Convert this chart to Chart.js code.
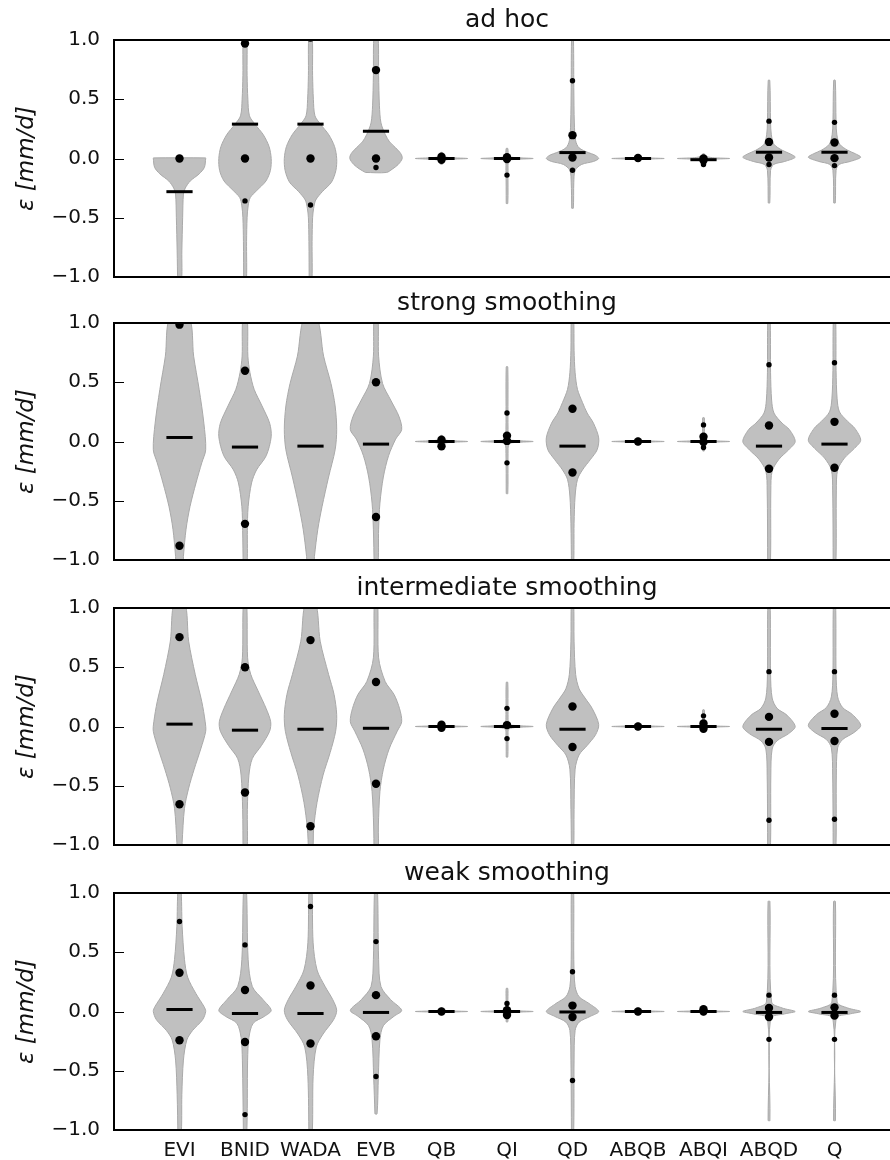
<!DOCTYPE html>
<html>
<head>
<meta charset="utf-8">
<script src="https://cdn.jsdelivr.net/npm/chart.js@4/dist/chart.umd.min.js"></script>
<style>
  body { margin: 0; background: #fff; }
  #fig { position: relative; width: 890px; height: 1160px; overflow: hidden; }
  #fig canvas { position: absolute; left: 0; }
</style>
</head>
<body>
<div id="fig">
  <canvas id="p0" width="904" height="304" style="top:0px"></canvas>
  <canvas id="p1" width="904" height="304" style="top:283px"></canvas>
  <canvas id="p2" width="904" height="304" style="top:568px"></canvas>
  <canvas id="p3" width="904" height="307" style="top:853px"></canvas>
</div>
<script>
// categories and axis ticks
const categories = ['EVI', 'BNID', 'WADA', 'EVB', 'QB', 'QI', 'QD', 'ABQB', 'ABQI', 'ABQD', 'Q'];
const panelTitles = ['ad hoc', 'strong smoothing', 'intermediate smoothing', 'weak smoothing'];
const yTickValues = [-1, -0.5, 0, 0.5, 1];

// violin profiles: [value, relative half-width] from bottom to top
const spindle = [[-0.03, 0.03], [-0.012, 0.08], [-0.005, 0.4], [0, 1], [0.005, 0.4], [0.012, 0.08], [0.03, 0.03]];

// ---- ad hoc
const adHocProfiles = [
  [[-1.05, 0.07], [-0.78, 0.09], [-0.5, 0.12], [-0.3, 0.15], [-0.25, 0.22], [-0.19, 0.41], [-0.13, 0.75], [-0.075, 0.95], [0.0, 1.0], [0.005, 1.0]],
  [[-1.05, 0.05], [-0.7, 0.06], [-0.5, 0.08], [-0.4, 0.12], [-0.33, 0.2], [-0.27, 0.45], [-0.19, 0.8], [-0.1, 0.97], [0.0, 1.0], [0.1, 0.92], [0.2, 0.7], [0.29, 0.38], [0.36, 0.17], [0.5, 0.11], [0.7, 0.08], [1.05, 0.06]],
  [[-1.05, 0.05], [-0.7, 0.06], [-0.5, 0.08], [-0.42, 0.12], [-0.35, 0.2], [-0.28, 0.45], [-0.2, 0.8], [-0.1, 0.97], [0.0, 1.0], [0.1, 0.92], [0.2, 0.7], [0.29, 0.38], [0.36, 0.17], [0.5, 0.11], [0.7, 0.08], [1.05, 0.06]],
  [[-0.118, 0.4], [-0.09, 0.62], [-0.05, 0.85], [0.0, 1.0], [0.04, 0.95], [0.09, 0.75], [0.14, 0.52], [0.2, 0.36], [0.3, 0.19], [0.45, 0.13], [0.7, 0.1], [1.05, 0.07]],
  [[-0.05, 0.03], [-0.02, 0.06], [-0.008, 0.3], [0, 1], [0.008, 0.3], [0.02, 0.06], [0.05, 0.03]],
  [[-0.38, 0.03], [-0.1, 0.04], [-0.02, 0.07], [-0.008, 0.3], [0, 1], [0.008, 0.3], [0.02, 0.07], [0.085, 0.03]],
  [[-0.42, 0.03], [-0.2, 0.05], [-0.1, 0.1], [-0.05, 0.35], [-0.025, 0.8], [0.0, 1.0], [0.03, 0.85], [0.05, 0.6], [0.09, 0.25], [0.15, 0.12], [0.3, 0.07], [0.6, 0.05], [1.05, 0.03]],
  spindle,
  [[-0.06, 0.03], [-0.02, 0.07], [-0.007, 0.35], [0, 1], [0.007, 0.35], [0.02, 0.07], [0.04, 0.03]],
  [[-0.375, 0.03], [-0.1, 0.06], [-0.05, 0.18], [-0.025, 0.6], [0.01, 1.0], [0.04, 0.8], [0.07, 0.5], [0.12, 0.19], [0.2, 0.09], [0.3, 0.06], [0.66, 0.03]],
  [[-0.375, 0.03], [-0.1, 0.06], [-0.05, 0.18], [-0.025, 0.6], [0.01, 1.0], [0.04, 0.8], [0.07, 0.5], [0.12, 0.2], [0.2, 0.09], [0.3, 0.06], [0.66, 0.03]]
];
const adHocMedians = [-0.28, 0.29, 0.29, 0.23, 0.0, 0.0, 0.05, 0.0, -0.01, 0.053, 0.053];
const adHocBigDots = [[0.0], [0.0, 0.97], [0.0, 1.02], [0.0, 0.746], [0.015, -0.01], [0.01, -0.005], [0.008, 0.197], [0.005], [0.0, -0.015], [0.008, 0.14], [0.003, 0.135]];
const adHocSmallDots = [[], [-0.358], [-0.392], [-0.076], [], [-0.14], [0.656, -0.099], [], [-0.05], [0.315, -0.05], [0.305, -0.06]];

// ---- strong smoothing
const strongProfiles = [
  [[-1.05, 0.14], [-0.97, 0.15], [-0.74, 0.25], [-0.55, 0.4], [-0.35, 0.63], [-0.18, 0.85], [-0.07, 1.0], [0.155, 0.93], [0.44, 0.75], [0.72, 0.54], [1.05, 0.36]],
  [[-1.05, 0.07], [-0.75, 0.09], [-0.55, 0.12], [-0.35, 0.25], [-0.24, 0.44], [-0.12, 0.81], [0.04, 1.0], [0.155, 0.94], [0.3, 0.65], [0.44, 0.35], [0.58, 0.19], [0.72, 0.11], [1.05, 0.08]],
  [[-1.05, 0.13], [-0.97, 0.15], [-0.74, 0.28], [-0.55, 0.44], [-0.3, 0.69], [-0.07, 0.94], [0.1, 1.0], [0.3, 0.94], [0.49, 0.78], [0.72, 0.5], [1.05, 0.24]],
  [[-1.05, 0.07], [-0.74, 0.1], [-0.52, 0.15], [-0.3, 0.28], [-0.12, 0.48], [0.02, 0.75], [0.1, 0.98], [0.21, 0.88], [0.35, 0.56], [0.49, 0.25], [0.72, 0.1], [1.05, 0.07]],
  [[-0.05, 0.03], [-0.02, 0.06], [-0.008, 0.3], [0, 1], [0.008, 0.3], [0.02, 0.06], [0.05, 0.03]],
  [[-0.44, 0.03], [-0.1, 0.04], [-0.02, 0.08], [-0.008, 0.35], [0, 1], [0.008, 0.35], [0.02, 0.08], [0.1, 0.04], [0.63, 0.03]],
  [[-1.05, 0.04], [-0.69, 0.06], [-0.46, 0.1], [-0.32, 0.19], [-0.24, 0.38], [-0.15, 0.69], [-0.07, 0.94], [0.03, 1.0], [0.155, 0.8], [0.24, 0.56], [0.33, 0.38], [0.44, 0.19], [0.58, 0.1], [0.77, 0.06], [1.05, 0.04]],
  spindle,
  [[-0.08, 0.03], [-0.02, 0.07], [-0.007, 0.35], [0, 1], [0.007, 0.35], [0.02, 0.07], [0.2, 0.03]],
  [[-1.05, 0.05], [-0.41, 0.07], [-0.25, 0.12], [-0.15, 0.38], [-0.07, 0.75], [0.0, 1.0], [0.1, 0.78], [0.155, 0.5], [0.24, 0.19], [0.35, 0.1], [0.58, 0.06], [1.05, 0.04]],
  [[-1.05, 0.05], [-0.41, 0.07], [-0.24, 0.12], [-0.14, 0.38], [-0.06, 0.75], [0.01, 1.0], [0.11, 0.78], [0.17, 0.5], [0.25, 0.19], [0.36, 0.1], [0.6, 0.06], [1.05, 0.04]]
];
const strongMedians = [0.034, -0.047, -0.039, -0.022, 0.0, 0.0, -0.039, 0.0, 0.0, -0.039, -0.022];
const strongBigDots = [[0.986, -0.88], [0.597, -0.695], [], [0.5, -0.637], [0.015, -0.04], [0.048, 0.005], [0.276, -0.262], [0.0], [0.04, -0.005], [0.135, -0.23], [0.166, -0.222]];
const strongSmallDots = [[], [], [], [], [], [0.24, -0.18], [], [], [0.14, -0.05], [0.648], [0.665]];

// ---- intermediate smoothing
const interProfiles = [
  [[-1.05, 0.09], [-0.98, 0.1], [-0.69, 0.19], [-0.52, 0.35], [-0.36, 0.56], [-0.19, 0.81], [-0.04, 1.0], [0.04, 0.98], [0.21, 0.85], [0.44, 0.6], [0.72, 0.35], [1.05, 0.2]],
  [[-1.05, 0.075], [-0.7, 0.09], [-0.41, 0.15], [-0.27, 0.28], [-0.16, 0.63], [-0.04, 0.94], [0.04, 0.98], [0.15, 0.81], [0.3, 0.5], [0.44, 0.22], [0.58, 0.1], [1.05, 0.06]],
  [[-1.05, 0.075], [-0.86, 0.12], [-0.64, 0.25], [-0.41, 0.48], [-0.22, 0.75], [-0.04, 0.96], [0.1, 1.0], [0.27, 0.9], [0.44, 0.69], [0.72, 0.37], [1.05, 0.19]],
  [[-1.05, 0.075], [-0.84, 0.09], [-0.55, 0.15], [-0.36, 0.28], [-0.19, 0.5], [-0.04, 0.81], [0.04, 0.98], [0.15, 0.9], [0.27, 0.69], [0.38, 0.35], [0.58, 0.1], [1.05, 0.06]],
  spindle,
  [[-0.258, 0.03], [-0.05, 0.04], [-0.02, 0.08], [-0.008, 0.35], [0, 1], [0.008, 0.35], [0.02, 0.08], [0.1, 0.04], [0.373, 0.03]],
  [[-1.05, 0.04], [-0.7, 0.06], [-0.36, 0.1], [-0.24, 0.25], [-0.16, 0.56], [-0.07, 0.88], [0.017, 1.0], [0.153, 0.75], [0.24, 0.48], [0.32, 0.25], [0.44, 0.12], [0.72, 0.06], [1.05, 0.04]],
  spindle,
  [[-0.04, 0.03], [-0.015, 0.07], [-0.006, 0.35], [0, 1], [0.006, 0.35], [0.02, 0.07], [0.14, 0.03]],
  [[-1.05, 0.05], [-0.41, 0.07], [-0.19, 0.12], [-0.12, 0.31], [-0.06, 0.75], [0.0, 1.0], [0.095, 0.69], [0.153, 0.31], [0.24, 0.12], [0.44, 0.06], [1.05, 0.04]],
  [[-1.05, 0.05], [-0.41, 0.07], [-0.18, 0.12], [-0.11, 0.31], [-0.05, 0.75], [0.01, 1.0], [0.1, 0.69], [0.16, 0.31], [0.25, 0.12], [0.44, 0.06], [1.05, 0.04]]
];
const interMedians = [0.02, -0.031, -0.023, -0.015, 0.0, 0.0, -0.023, 0.0, 0.0, -0.023, -0.017];
const interBigDots = [[0.754, -0.656], [0.5, -0.557], [0.729, -0.842], [0.376, -0.483], [0.015, -0.01], [0.012], [0.169, -0.173], [0.0], [0.025, -0.02], [0.081, -0.13], [0.107, -0.122]];
const interSmallDots = [[], [], [], [], [], [0.153, -0.102], [], [], [0.09], [0.463, -0.791], [0.463, -0.783]];

// ---- weak smoothing
const weakProfiles = [
  [[-1.05, 0.06], [-0.7, 0.09], [-0.41, 0.15], [-0.24, 0.28], [-0.16, 0.5], [-0.07, 0.88], [0.0, 1.0], [0.04, 0.94], [0.15, 0.63], [0.29, 0.31], [0.44, 0.19], [0.72, 0.1], [1.05, 0.05]],
  [[-1.05, 0.06], [-0.41, 0.1], [-0.22, 0.15], [-0.1, 0.31], [-0.04, 0.75], [0.01, 1.0], [0.1, 0.69], [0.21, 0.28], [0.44, 0.12], [1.05, 0.05]],
  [[-1.05, 0.06], [-0.55, 0.1], [-0.3, 0.22], [-0.19, 0.48], [-0.07, 0.88], [0.01, 1.0], [0.1, 0.85], [0.21, 0.56], [0.35, 0.25], [0.58, 0.1], [1.05, 0.05]],
  [[-0.864, 0.04], [-0.55, 0.09], [-0.24, 0.15], [-0.12, 0.28], [-0.04, 0.69], [0.01, 0.98], [0.1, 0.56], [0.21, 0.19], [0.44, 0.1], [1.05, 0.05]],
  spindle,
  [[-0.088, 0.03], [-0.02, 0.07], [-0.007, 0.35], [0, 1], [0.007, 0.35], [0.02, 0.07], [0.195, 0.03]],
  [[-1.05, 0.04], [-0.41, 0.06], [-0.16, 0.1], [-0.09, 0.25], [-0.04, 0.69], [0.0, 1.0], [0.068, 0.63], [0.125, 0.25], [0.21, 0.1], [0.44, 0.05], [1.05, 0.04]],
  spindle,
  spindle,
  [[-0.921, 0.035], [-0.06, 0.06], [-0.02, 0.6], [0.0, 1.0], [0.03, 0.5], [0.08, 0.1], [0.929, 0.035]],
  [[-0.921, 0.035], [-0.06, 0.06], [-0.02, 0.6], [0.0, 1.0], [0.03, 0.5], [0.08, 0.1], [0.929, 0.035]]
];
const weakMedians = [0.017, -0.017, -0.017, -0.008, 0.0, 0.0, -0.004, 0.0, 0.0, -0.008, -0.008];
const weakBigDots = [[0.327, -0.243], [0.181, -0.258], [0.22, -0.27], [0.138, -0.209], [0.0], [0.01, -0.03], [0.05, -0.046], [0.0], [0.02, 0.0], [0.03, -0.046], [0.035, -0.035]];
const weakSmallDots = [[0.76], [0.562, -0.87], [0.886], [0.59, -0.548], [], [0.068], [0.336, -0.582], [], [], [0.138, -0.235], [0.138, -0.235]];

const panels = [
  {profiles: adHocProfiles, medians: adHocMedians, big: adHocBigDots, small: adHocSmallDots},
  {profiles: strongProfiles, medians: strongMedians, big: strongBigDots, small: strongSmallDots},
  {profiles: interProfiles, medians: interMedians, big: interBigDots, small: interSmallDots},
  {profiles: weakProfiles, medians: weakMedians, big: weakBigDots, small: weakSmallDots}
];

const HALF = 0.4;  // widest half-width of a violin, in category units
const FONT = 'DejaVu Sans';
const INK = '#111';

// closed outline: up the left side, down the right side
function violinOutline(profile, pos) {
  const left = profile.map(([y, w]) => ({x: pos - w * HALF, y: y}));
  const right = profile.slice().reverse().map(([y, w]) => ({x: pos + w * HALF, y: y}));
  return left.concat(right, [left[0]]);
}

// box around the plot and inward ticks on both sides
const frame = {
  id: 'frame',
  afterDatasetsDraw(chart) {
    const {ctx, chartArea: {left, top, right, bottom}, scales: {y}} = chart;
    ctx.save();
    ctx.strokeStyle = '#000';
    ctx.lineWidth = 1;
    yTickValues.forEach(v => {
      const py = Math.round(y.getPixelForValue(v)) + 0.5;
      ctx.beginPath();
      ctx.moveTo(left, py); ctx.lineTo(left + 10, py);
      ctx.moveTo(right - 10, py); ctx.lineTo(right, py);
      ctx.stroke();
    });
    ctx.lineWidth = 2;
    ctx.strokeRect(left, top, right - left, bottom - top);
    ctx.restore();
  }
};

panels.forEach((p, k) => {
  const last = k === panels.length - 1;
  const datasets = [];

  p.profiles.forEach((prof, i) => {
    datasets.push({
      data: violinOutline(prof, i + 1),
      showLine: true,
      fill: 'shape',
      backgroundColor: '#c0c0c0',
      borderColor: '#a9a9a9',
      borderWidth: 1,
      tension: 0.3,
      pointRadius: 0,
      clip: 0,
      order: 3
    });
  });

  datasets.push({
    data: p.medians.map((m, i) => ({x: i + 1, y: m})),
    pointStyle: 'line',
    pointRadius: 13.1,
    borderColor: '#000',
    borderWidth: 3,
    clip: 0,
    order: 2
  });

  datasets.push({
    data: p.small.flatMap((vals, i) => vals.map(v => ({x: i + 1, y: v}))),
    pointRadius: 2.7,
    backgroundColor: '#000',
    borderWidth: 0,
    clip: 0,
    order: 1
  });

  datasets.push({
    data: p.big.flatMap((vals, i) => vals.map(v => ({x: i + 1, y: v}))),
    pointRadius: 4.2,
    backgroundColor: '#000',
    borderWidth: 0,
    clip: 0,
    order: 0
  });

  new Chart(document.getElementById('p' + k), {
    type: 'scatter',
    data: {datasets: datasets},
    options: {
      responsive: false,
      animation: false,
      events: [],
      layout: {autoPadding: false, padding: {left: 0, right: 4, top: 0, bottom: last ? 0 : 27}},
      plugins: {
        legend: {display: false},
        tooltip: {enabled: false},
        title: {
          display: true,
          text: panelTitles[k],
          fullSize: false,
          color: INK,
          font: {family: FONT, size: 25, weight: 'normal'},
          padding: {top: 5, bottom: 5}
        }
      },
      scales: {
        x: {
          type: 'linear',
          min: 0,
          max: 12,
          display: last,
          grid: {display: false},
          border: {display: false},
          afterBuildTicks: s => { s.ticks = categories.map((c, i) => ({value: i + 1})); },
          afterFit: s => { if (last) s.height = 30; },
          ticks: {
            autoSkip: false,
            maxRotation: 0,
            padding: 1,
            color: INK,
            font: {family: FONT, size: 20},
            callback: v => categories[v - 1]
          }
        },
        y: {
          type: 'linear',
          min: -1,
          max: 1,
          grid: {display: false},
          border: {display: false},
          afterBuildTicks: s => { s.ticks = yTickValues.map(v => ({value: v})); },
          afterFit: s => { s.width = 114; },
          title: {
            display: true,
            text: 'ε [mm/d]',
            color: INK,
            font: {family: FONT, size: 23, style: 'italic'},
            padding: {top: 13}
          },
          ticks: {
            autoSkip: false,
            padding: 6,
            color: INK,
            font: {family: FONT, size: 20},
            callback: v => (v < 0 ? '\u2212' : '') + Math.abs(v).toFixed(1)
          }
        }
      }
    },
    plugins: [frame]
  });
});
</script>
</body>
</html>
